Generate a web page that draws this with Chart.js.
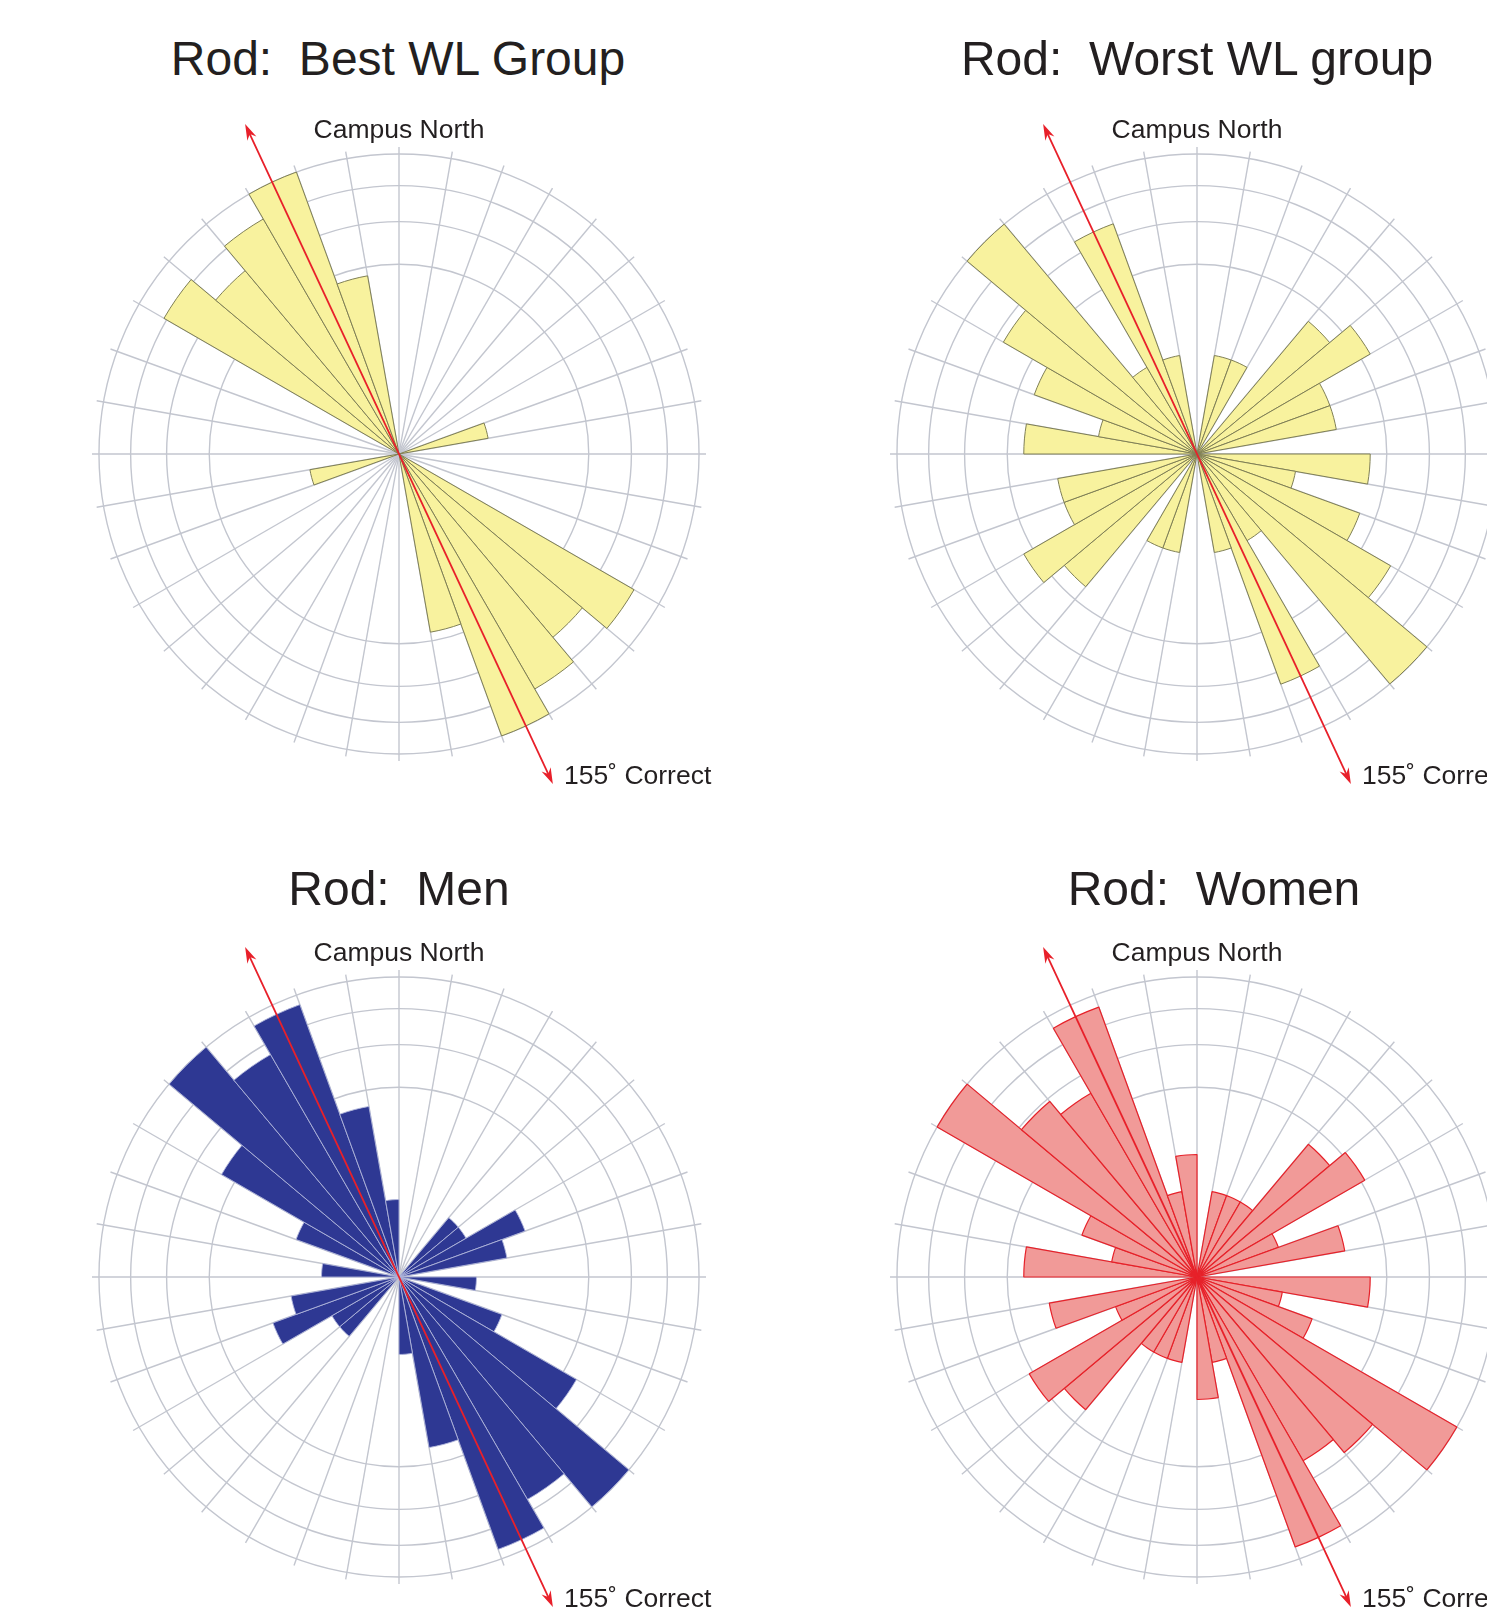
<!DOCTYPE html>
<html>
<head>
<meta charset="utf-8">
<script src="https://cdn.jsdelivr.net/npm/chart.js@4.4.1/dist/chart.umd.min.js"></script>
<style>
  html, body { margin: 0; padding: 0; background: #fff; overflow: hidden; }
  #page { position: relative; width: 1487px; height: 1618px; overflow: hidden; }
  .title {
    position: absolute; width: 800px; text-align: center; white-space: pre;
    font: 48px/48px "Liberation Sans", Arial, sans-serif; color: #231f20;
  }
  canvas { position: absolute; }
</style>
</head>
<body>
<div id="page"></div>
<script>
// 10 degree sectors, bearing clockwise from campus north
const sectorStarts = [0, 10, 20, 30, 40, 50, 60, 70, 80, 90, 100, 110, 120, 130, 140, 150, 160, 170,
                      180, 190, 200, 210, 220, 230, 240, 250, 260, 270, 280, 290, 300, 310, 320, 330, 340, 350];

// rod counts per sector (each rod is axial, so it shows up at both ends)
const bestWL  = [0, 0, 0, 0, 0, 0, 0, 1, 0, 0, 0, 0, 9, 7, 9, 11, 4, 0,
                 0, 0, 0, 0, 0, 0, 0, 1, 0, 0, 0, 0, 9, 7, 9, 11, 4, 0];
const worstWL = [0, 1, 1, 0, 3, 4, 2, 2, 0, 3, 1, 3, 5, 9, 1, 6, 1, 0,
                 0, 1, 1, 0, 3, 4, 2, 2, 0, 3, 1, 3, 5, 9, 1, 6, 1, 0];
const men     = [0, 0, 0, 0, 1, 1, 3, 2, 0, 1, 0, 2, 7, 15, 11, 14, 5, 1,
                 0, 0, 0, 0, 1, 1, 3, 2, 0, 1, 0, 2, 7, 15, 11, 14, 5, 1];
const women   = [0, 1, 1, 1, 4, 5, 1, 3, 0, 4, 1, 2, 12, 7, 6, 11, 1, 2,
                 0, 1, 1, 1, 4, 5, 1, 3, 0, 4, 1, 2, 12, 7, 6, 11, 1, 2];

const correctBearing = 155;
const ringCount = 5;

const gridColor = '#c3c6cf';
const arrowRed = '#e8202a';
const textColor = '#231f20';

// equal-area rose: radius grows with the square root of the count
class SqrtRadialScale extends Chart.RadialLinearScale {
  getDistanceFromCenterForValue(value) {
    if (value === null || isNaN(value)) return NaN;
    const frac = Math.max(value - this.min, 0) / (this.max - this.min);
    return this.drawingArea * Math.sqrt(frac);
  }
}
SqrtRadialScale.id = 'sqrtRadial';
SqrtRadialScale.defaults = Chart.RadialLinearScale.defaults;
Chart.register(SqrtRadialScale);

function drawHead(ctx, tip, ux, uy) {
  const len = 16, half = 5, notch = 11;
  const bx = tip[0] - ux * len, by = tip[1] - uy * len;
  const px = -uy, py = ux;
  ctx.beginPath();
  ctx.moveTo(tip[0], tip[1]);
  ctx.lineTo(bx + px * half, by + py * half);
  ctx.lineTo(tip[0] - ux * notch, tip[1] - uy * notch);
  ctx.lineTo(bx - px * half, by - py * half);
  ctx.closePath();
  ctx.fill();
}

// red "correct" axis, plus the two captions around the rose
const compassMarks = {
  id: 'compassMarks',
  afterDatasetsDraw(chart) {
    const r = chart.scales.r;
    const ctx = chart.ctx;
    const cx = r.xCenter, cy = r.yCenter;
    const reach = r.drawingArea * 1.186;
    const rad = correctBearing * Math.PI / 180;
    const ux = Math.sin(rad), uy = -Math.cos(rad);
    const tipA = [cx + ux * reach, cy + uy * reach];
    const tipB = [cx - ux * reach, cy - uy * reach];

    ctx.save();
    ctx.strokeStyle = arrowRed;
    ctx.fillStyle = arrowRed;
    ctx.lineWidth = 1.8;
    ctx.beginPath();
    ctx.moveTo(tipB[0] + ux * 8, tipB[1] + uy * 8);
    ctx.lineTo(tipA[0] - ux * 8, tipA[1] - uy * 8);
    ctx.stroke();
    drawHead(ctx, tipA, ux, uy);
    drawHead(ctx, tipB, -ux, -uy);

    ctx.fillStyle = textColor;
    ctx.font = '26.5px "Liberation Sans", Arial, sans-serif';
    ctx.textBaseline = 'alphabetic';
    ctx.textAlign = 'center';
    ctx.fillText('Campus North', cx, cy - 316);
    ctx.textAlign = 'left';
    ctx.fillText(correctBearing + '\u02DA Correct', cx + 165, cy + 330);
    ctx.restore();
  }
};

const panels = [
  { title: 'Rod:  Best WL Group',  data: bestWL,  cx: 399,  cy: 454,  titleX: 398,  titleY: 75,
    fill: '#f8f29e', stroke: '#7f7f55', strokeWidth: 1 },
  { title: 'Rod:  Worst WL group', data: worstWL, cx: 1197, cy: 454,  titleX: 1197, titleY: 75,
    fill: '#f8f29e', stroke: '#7f7f55', strokeWidth: 1 },
  { title: 'Rod:  Men',            data: men,     cx: 399,  cy: 1277, titleX: 399,  titleY: 905,
    fill: '#2e3893', stroke: 'rgba(175,181,218,0.9)', strokeWidth: 1 },
  { title: 'Rod:  Women',          data: women,   cx: 1197, cy: 1277, titleX: 1214, titleY: 905,
    fill: '#f19a98', stroke: '#e62129', strokeWidth: 1.2 }
];

const page = document.getElementById('page');
const canvasW = 798, canvasH = 820, radius = 307;

panels.forEach(p => {
  const t = document.createElement('div');
  t.className = 'title';
  t.textContent = p.title;
  t.style.left = (p.titleX - 400) + 'px';
  t.style.top = (p.titleY - 40) + 'px';
  page.appendChild(t);

  const c = document.createElement('canvas');
  c.width = canvasW;
  c.height = canvasH;
  c.style.left = (p.cx - canvasW / 2) + 'px';
  c.style.top = (p.cy - 374) + 'px';
  page.appendChild(c);

  const top = Math.max(...p.data);
  const rings = [];
  for (let k = 1; k <= ringCount; k++) rings.push(top * k / ringCount);

  new Chart(c, {
    type: 'polarArea',
    data: {
      labels: sectorStarts.map(b => b + '\u00B0'),
      datasets: [{
        data: p.data,
        backgroundColor: p.fill,
        borderColor: p.stroke,
        borderWidth: p.strokeWidth
      }]
    },
    options: {
      responsive: false,
      animation: false,
      layout: {
        padding: {
          left: canvasW / 2 - radius,
          right: canvasW / 2 - radius,
          top: 374 - radius,
          bottom: canvasH - 374 - radius
        }
      },
      plugins: { legend: { display: false }, tooltip: { enabled: false } },
      scales: {
        r: {
          type: 'sqrtRadial',
          min: 0,
          max: top * 1.047,   // spokes run a little past the outer ring
          startAngle: 0,
          ticks: { display: false },
          afterBuildTicks: s => { s.ticks = rings.map(v => ({ value: v })); },
          grid: { circular: true, color: gridColor, lineWidth: 1.4 },
          angleLines: { display: true, color: gridColor, lineWidth: 1.4 },
          pointLabels: { display: false }
        }
      }
    },
    plugins: [compassMarks]
  });
});
</script>
</body>
</html>
